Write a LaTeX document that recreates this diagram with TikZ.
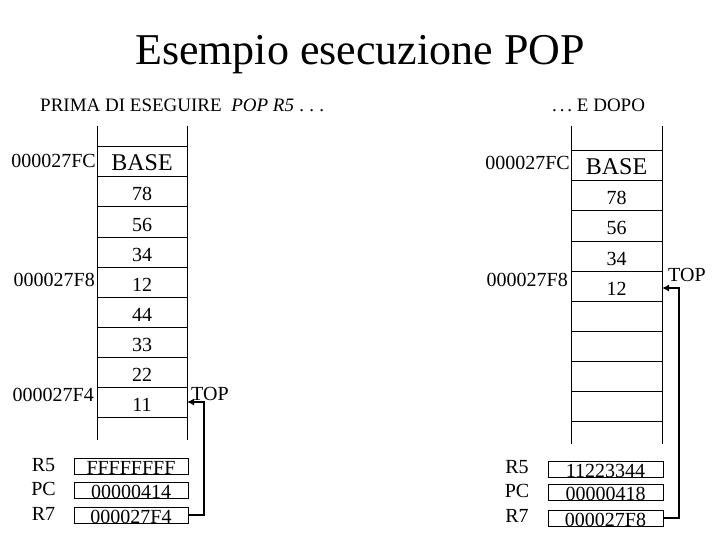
\documentclass[tikz,border=0pt]{standalone}
\usepackage{fontspec}
\setmainfont{Liberation Serif}
\usetikzlibrary{arrows.meta}
\tikzset{
  txt/.style={font=\fontsize{20}{24}\selectfont, inner sep=0pt},
  lbl/.style={font=\fontsize{19}{22}\selectfont, inner sep=0pt, anchor=base west},
  cell/.style={draw, line width=1pt, inner sep=0pt, outer sep=0pt, text height=24pt, text depth=6pt,
    anchor=north, font=\fontsize{20}{24}\selectfont},
  basecell/.style={cell, font=\fontsize{24}{28}\selectfont},
  reg/.style={draw, line width=1pt, inner sep=0pt, outer sep=0pt, text height=16pt, text depth=0pt,
    minimum width=114pt, anchor=north, font=\fontsize{20}{24}\selectfont},
  addr/.style={txt, anchor=base east},
  rname/.style={txt, anchor=base},
  ptr/.style={line width=2pt, -{Latex[length=7pt,width=7pt]}},
  edge/.style={line width=1pt}
}
\begin{document}
\begin{tikzpicture}[x=1pt,y=-1pt]
\useasboundingbox (0,0) rectangle (720,540);
% title
\node[font=\fontsize{44}{50}\selectfont, inner sep=0pt, anchor=base] (title) at (360,65) {Esempio esecuzione POP};
\node[lbl] (before) at (40,112) {PRIMA DI ESEGUIRE \ \textit{POP R5}\hbox to 30pt{\hfil.\hfil.\hfil.}};
\node[lbl] (after) at (552,112) {\hbox to 20pt{.\hfil.\hfil.}\ E DOPO};

% left stack
\node[basecell, minimum width=90pt] (L0) at (142,147) {BASE};
\foreach \v [count=\i from 1] in {78,56,34,12,44,33,22,11}
  \node[cell, minimum width=90pt] (L\i) at (142,147+30*\i) {\v};
\draw[edge] (L0.north west) -- ++(0,-21);
\draw[edge] (L0.north east) -- ++(0,-21);
\draw[edge] (L8.south west) -- ++(0,23);
\draw[edge] (L8.south east) -- ++(0,23);

\node[addr] (LaFC) at (96,168) {000027FC};
\node[addr] (LaF8) at (95,286) {000027F8};
\node[addr] (LaF4) at (94,401) {000027F4};

% left registers
\node[reg] (LR5) at (131,458) {FFFFFFFF};
\node[reg] (LPC) at (131,482) {00000414};
\node[reg] (LR7) at (131,507) {000027F4};
\node[rname] (LnR5) at (43.5,471.5) {R5};
\node[rname] (LnPC) at (43.5,495) {PC};
\node[rname] (LnR7) at (43.5,520) {R7};

\draw[ptr] (LR7.east) -- ++(16,0) |- (L8.east);
\node[txt, anchor=base west] (LTOP) at (191,400) {TOP};

% right stack
\node[basecell, minimum width=91pt] (R0) at (616.5,151) {BASE};
\foreach \v [count=\i from 1] in {78,56,34,12,{},{},{},{}}
  \node[cell, minimum width=91pt] (R\i) at (616.5,151+30*\i) {\v};
\draw[edge] (R0.north west) -- ++(0,-25);
\draw[edge] (R0.north east) -- ++(0,-25);
\draw[edge] (R8.south west) -- ++(0,23);
\draw[edge] (R8.south east) -- ++(0,23);

\node[addr] (RaFC) at (570,170) {000027FC};
\node[addr] (RaF8) at (568,286.5) {000027F8};

% right registers
\node[reg, minimum width=115pt] (RR5) at (605.5,461) {11223344};
\node[reg, minimum width=115pt] (RPC) at (605.5,484) {00000418};
\node[reg, minimum width=115pt] (RR7) at (605.5,510) {000027F8};
\node[rname] (RnR5) at (517,473) {R5};
\node[rname] (RnPC) at (517,497) {PC};
\node[rname] (RnR7) at (517,522) {R7};

\draw[ptr] (RR7.east) -- ++(16,0) |- ([yshift=-2pt]R4.east);
\node[txt, anchor=base west] (RTOP) at (668,281) {TOP};
\end{tikzpicture}
\end{document}
